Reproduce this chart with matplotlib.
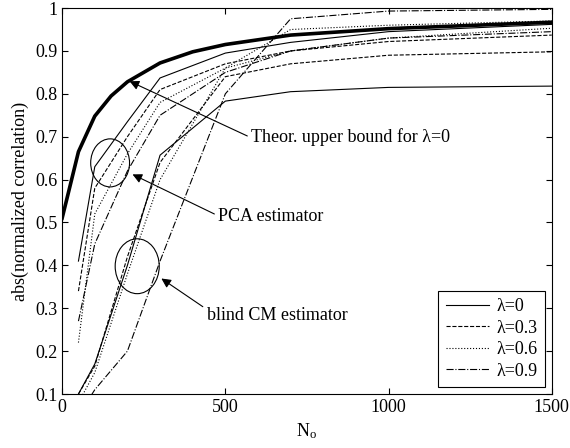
import numpy as np
import matplotlib.pyplot as plt
from matplotlib.patches import Ellipse

plt.rcParams['font.family'] = ['Liberation Serif', 'DejaVu Serif']
plt.rcParams['mathtext.fontset'] = 'stix'

# numero de observacoes
N = [50, 100, 200, 300, 500, 700, 1000, 1500]

# limite teorico (lambda = 0)
N_bound = [0, 50, 100, 150, 200, 300, 400, 500, 700, 1000, 1500]
bound = [0.51, 0.665, 0.748, 0.795, 0.828, 0.872, 0.898, 0.915, 0.937, 0.952, 0.967]

# estimador PCA
pca_00 = [0.41, 0.63, 0.735, 0.837, 0.895, 0.92, 0.945, 0.962]
pca_03 = [0.34, 0.58, 0.70, 0.81, 0.87, 0.90, 0.922, 0.937]
pca_06 = [0.22, 0.52, 0.66, 0.78, 0.86, 0.90, 0.93, 0.953]
pca_09 = [0.27, 0.45, 0.62, 0.75, 0.85, 0.90, 0.93, 0.945]

# estimador CM cego
cm_00 = [0.10, 0.17, 0.40, 0.657, 0.783, 0.805, 0.815, 0.818]
cm_03 = [0.10, 0.165, 0.42, 0.64, 0.84, 0.87, 0.89, 0.898]
cm_06 = [0.08, 0.15, 0.38, 0.60, 0.86, 0.95, 0.96, 0.97]
cm_09 = [0.05, 0.11, 0.20, 0.41, 0.80, 0.975, 0.993, 0.997]

lambdas = ['0', '0.3', '0.6', '0.9']
estilos = ['-', '--', ':', '-.']
fs = 13

fig = plt.figure(figsize=(5.7, 4.48), dpi=100)
ax = fig.add_axes([0.109, 0.1205, 0.859, 0.8615])

ax.plot(N_bound, bound, 'k-', lw=2.6)
for y, ls, lam in zip([pca_00, pca_03, pca_06, pca_09], estilos, lambdas):
    ax.plot(N, y, color='k', ls=ls, lw=0.8, label='λ=' + lam)
for y, ls in zip([cm_00, cm_03, cm_06, cm_09], estilos):
    ax.plot(N, y, color='k', ls=ls, lw=0.8)

# elipses e setas
ax.add_patch(Ellipse((147, 0.639), 119, 0.112, fill=False, lw=0.8))
ax.add_patch(Ellipse((230, 0.398), 135, 0.128, fill=False, lw=0.8))

seta = dict(arrowstyle='-|>', color='k', lw=0.8, mutation_scale=14)
ax.annotate('', xy=(199, 0.832), xytext=(575, 0.699), arrowprops=seta)
ax.annotate('', xy=(208, 0.615), xytext=(474, 0.517), arrowprops=seta)
ax.annotate('', xy=(297, 0.373), xytext=(438, 0.300), arrowprops=seta)
ax.text(578, 0.699, 'Theor. upper bound for λ=0', va='center', fontsize=fs)
ax.text(477, 0.513, 'PCA estimator', va='center', fontsize=fs)
ax.text(443, 0.284, 'blind CM estimator', va='center', fontsize=fs)

ax.set_xlim(0, 1500)
ax.set_ylim(0.1, 1)
ax.set_xticks([0, 500, 1000, 1500])
ax.set_yticks(np.arange(0.1, 1.01, 0.1))
ax.set_yticklabels(['0.1', '0.2', '0.3', '0.4', '0.5', '0.6', '0.7', '0.8', '0.9', '1'])
ax.tick_params(direction='in', top=True, right=True, labelsize=fs, length=4)
ax.set_xlabel('N$_\\mathregular{o}$', fontsize=fs, labelpad=4)
ax.set_ylabel('abs(normalized correlation)', fontsize=fs, labelpad=4)

leg = ax.legend(loc='lower right', fontsize=fs, fancybox=False, framealpha=1,
                edgecolor='k', handlelength=2.4, borderaxespad=0.4,
                labelspacing=0.25, handletextpad=0.4)
leg.get_frame().set_linewidth(0.8)

fig.savefig('out.png', dpi=100)
